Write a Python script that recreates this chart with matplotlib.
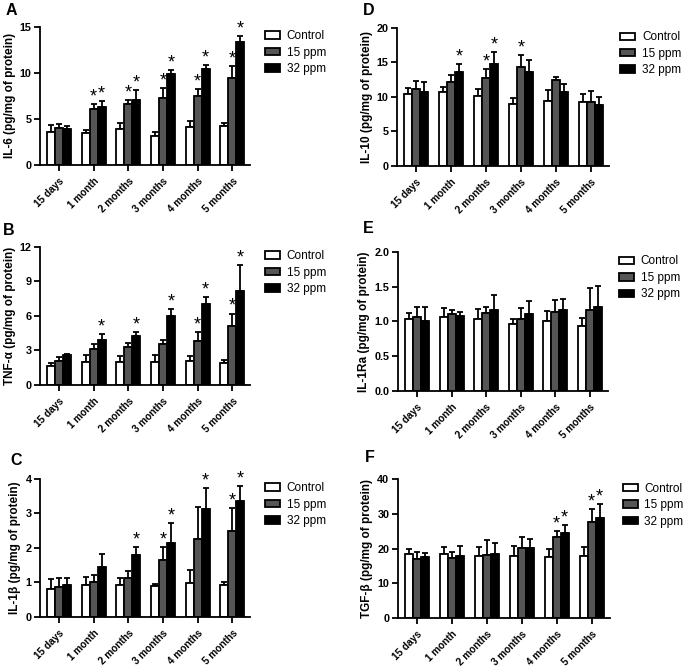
import matplotlib
matplotlib.use("Agg")
import matplotlib.pyplot as plt
import numpy as np

plt.rcParams['font.family'] = ['Liberation Sans', 'DejaVu Sans']

times = ["15 days", "1 month", "2 months", "3 months", "4 months", "5 months"]
groups = ["Control", "15 ppm", "32 ppm"]

# panel A, IL-6
il6_ctrl = [3.5, 3.4, 3.9, 3.1, 4.1, 4.2]
il6_ctrl_err = [0.8, 0.35, 0.65, 0.5, 0.7, 0.35]
il6_15 = [3.95, 6.1, 6.6, 7.2, 7.45, 9.4]
il6_15_err = [0.45, 0.45, 0.45, 1.1, 0.8, 1.3]
il6_32 = [3.9, 6.3, 7.0, 9.85, 10.35, 13.3]
il6_32_err = [0.3, 0.6, 1.1, 0.45, 0.5, 0.7]
il6_star15 = [1, 2, 3, 4, 5]
il6_star32 = [1, 2, 3, 4, 5]

# panel B, TNF-alpha
tnf_ctrl = [1.65, 1.97, 2.02, 2.0, 2.05, 1.9]
tnf_ctrl_err = [0.3, 0.6, 0.48, 0.63, 0.49, 0.27]
tnf_15 = [2.1, 3.12, 3.32, 3.55, 3.84, 5.12]
tnf_15_err = [0.35, 0.41, 0.33, 0.35, 0.76, 1.08]
tnf_32 = [2.57, 3.9, 4.22, 5.98, 7.02, 8.15]
tnf_32_err = [0.13, 0.5, 0.35, 0.58, 0.64, 2.25]
tnf_star15 = [4, 5]
tnf_star32 = [1, 2, 3, 4, 5]

# panel C, IL-1beta
il1b_ctrl = [0.81, 0.91, 0.93, 0.9, 0.97, 0.91]
il1b_ctrl_err = [0.27, 0.23, 0.18, 0.05, 0.37, 0.1]
il1b_15 = [0.87, 1.02, 1.12, 1.63, 2.26, 2.49]
il1b_15_err = [0.25, 0.18, 0.2, 0.4, 0.91, 0.65]
il1b_32 = [0.93, 1.45, 1.79, 2.14, 3.11, 3.35]
il1b_32_err = [0.19, 0.36, 0.22, 0.58, 0.61, 0.44]
il1b_star15 = [3, 5]
il1b_star32 = [2, 3, 4, 5]

# panel D, IL-10
il10_ctrl = [10.46, 10.65, 10.07, 8.9, 9.35, 9.3]
il10_ctrl_err = [0.85, 0.85, 1.05, 0.9, 1.6, 1.1]
il10_15 = [11.1, 12.2, 12.8, 14.3, 12.45, 9.3]
il10_15_err = [1.2, 1.0, 1.25, 1.8, 0.45, 1.6]
il10_32 = [10.7, 13.55, 14.8, 13.55, 10.7, 8.8]
il10_32_err = [1.4, 1.15, 1.75, 1.85, 1.15, 1.2]
il10_star15 = [2, 3]
il10_star32 = [1, 2]

# panel E, IL-1Ra
il1ra_ctrl = [1.03, 1.06, 1.03, 0.96, 1.01, 0.93]
il1ra_ctrl_err = [0.085, 0.13, 0.15, 0.07, 0.14, 0.12]
il1ra_15 = [1.06, 1.1, 1.12, 1.03, 1.135, 1.17]
il1ra_15_err = [0.14, 0.07, 0.09, 0.16, 0.175, 0.31]
il1ra_32 = [1.0, 1.07, 1.16, 1.11, 1.16, 1.2]
il1ra_32_err = [0.2, 0.06, 0.215, 0.19, 0.16, 0.31]
il1ra_star15 = []
il1ra_star32 = []

# panel F, TGF-beta
tgf_ctrl = [18.3, 18.5, 17.7, 17.7, 17.6, 17.8]
tgf_ctrl_err = [1.65, 1.8, 2.7, 3.0, 2.15, 2.7]
tgf_15 = [17.06, 17.15, 18.1, 20.05, 23.2, 27.55]
tgf_15_err = [1.95, 1.95, 4.35, 3.35, 1.75, 3.85]
tgf_32 = [17.6, 17.8, 18.4, 20.1, 24.6, 28.8]
tgf_32_err = [1.0, 2.9, 3.1, 2.65, 2.3, 4.0]
tgf_star15 = [4, 5]
tgf_star32 = [4, 5]

# letter, ylabel, yticks, axes rect, letter pos, legend x
panels = [
    ("A", "IL-6 (pg/mg of protein)", [0, 5, 10, 15], [0.0584, 0.7527, 0.307, 0.2073],
     (-0.162, 1.085), 0.069,
     il6_ctrl, il6_ctrl_err, il6_15, il6_15_err, il6_32, il6_32_err, il6_star15, il6_star32),
    ("B", "TNF-\u03b1 (pg/mg of protein)", [0, 3, 6, 9, 12], [0.0584, 0.4219, 0.307, 0.2077],
     (-0.176, 1.084), 0.069,
     tnf_ctrl, tnf_ctrl_err, tnf_15, tnf_15_err, tnf_32, tnf_32_err, tnf_star15, tnf_star32),
    ("C", "IL-1\u03b2 (pg/mg of protein)", [0, 1, 2, 3, 4], [0.0584, 0.074, 0.307, 0.2072],
     (-0.143, 1.099), 0.069,
     il1b_ctrl, il1b_ctrl_err, il1b_15, il1b_15_err, il1b_32, il1b_32_err, il1b_star15, il1b_star32),
    ("D", "IL-10 (pg/mg of protein)", [0, 5, 10, 15, 20], [0.5796, 0.7512, 0.3095, 0.2068],
     (-0.16, 1.094), 0.052,
     il10_ctrl, il10_ctrl_err, il10_15, il10_15_err, il10_32, il10_32_err, il10_star15, il10_star32),
    ("E", "IL-1Ra (pg/mg of protein)", [0.0, 0.5, 1.0, 1.5, 2.0], [0.581, 0.4134, 0.3066, 0.2082],
     (-0.167, 1.137), 0.052,
     il1ra_ctrl, il1ra_ctrl_err, il1ra_15, il1ra_15_err, il1ra_32, il1ra_32_err, il1ra_star15, il1ra_star32),
    ("F", "TGF-\u03b2 (pg/mg of protein)", [0, 10, 20, 30, 40], [0.5806, 0.0725, 0.3095, 0.2078],
     (-0.154, 1.125), 0.061,
     tgf_ctrl, tgf_ctrl_err, tgf_15, tgf_15_err, tgf_32, tgf_32_err, tgf_star15, tgf_star32),
]

colors = ["white", "#555555", "black"]
w = 0.23
x = np.arange(len(times))

fig = plt.figure(figsize=(6.85, 6.66), dpi=100)

for (letter, ylab, yticks, pos, lpos, legx, c, ce, m, me, h, he, s15, s32) in panels:
    ax = fig.add_axes(pos)
    vals = [c, m, h]
    errs = [ce, me, he]
    ymax = yticks[-1]
    for i in range(3):
        xi = x + (i - 1) * w
        ax.bar(xi, vals[i], w, color=colors[i], edgecolor="black", linewidth=1.3,
               label=groups[i], zorder=2)
        ax.errorbar(xi, vals[i], yerr=[np.zeros(len(x)), errs[i]], fmt="none",
                    ecolor="black", elinewidth=1.3, capsize=2.5, capthick=1.3, zorder=1)
    for idx_list, i in ((s15, 1), (s32, 2)):
        for j in idx_list:
            top = vals[i][j] + errs[i][j]
            ax.text(x[j] + (i - 1) * w, top - ymax * 0.01, "*", ha="center", va="bottom",
                    fontsize=13)
    ax.set_xlim(-0.55, 5.52)
    ax.set_ylim(0, ymax)
    ax.set_yticks(yticks)
    if isinstance(yticks[1], float):
        ax.set_yticklabels(["%.1f" % t for t in yticks])
    ax.set_xticks(x)
    ax.set_xticklabels(times, rotation=45, ha="right", rotation_mode="anchor")
    for lbl in ax.get_xticklabels():
        lbl.set_fontweight("bold")
        lbl.set_fontsize(7.2)
    for lbl in ax.get_yticklabels():
        lbl.set_fontweight("bold")
        lbl.set_fontsize(7.8)
    ax.tick_params(axis="x", width=1.3, length=4, pad=4)
    ax.tick_params(axis="y", width=1.3, length=4, pad=2)
    ax.spines["top"].set_visible(False)
    ax.spines["right"].set_visible(False)
    ax.spines["left"].set_linewidth(1.3)
    ax.spines["bottom"].set_linewidth(1.3)
    ax.set_ylabel(ylab, fontweight="bold", fontsize=8.5, labelpad=3)
    ax.legend(loc="upper left", bbox_to_anchor=(1 + legx, 0.975), frameon=False,
              fontsize=8.5, handlelength=1.3, handleheight=0.6, labelspacing=0.38,
              handletextpad=0.55, borderaxespad=0, borderpad=0)
    ax.text(lpos[0], lpos[1], letter, transform=ax.transAxes, fontsize=11.5,
            fontweight="bold", ha="left", va="baseline")

fig.savefig("out.png", dpi=100)
